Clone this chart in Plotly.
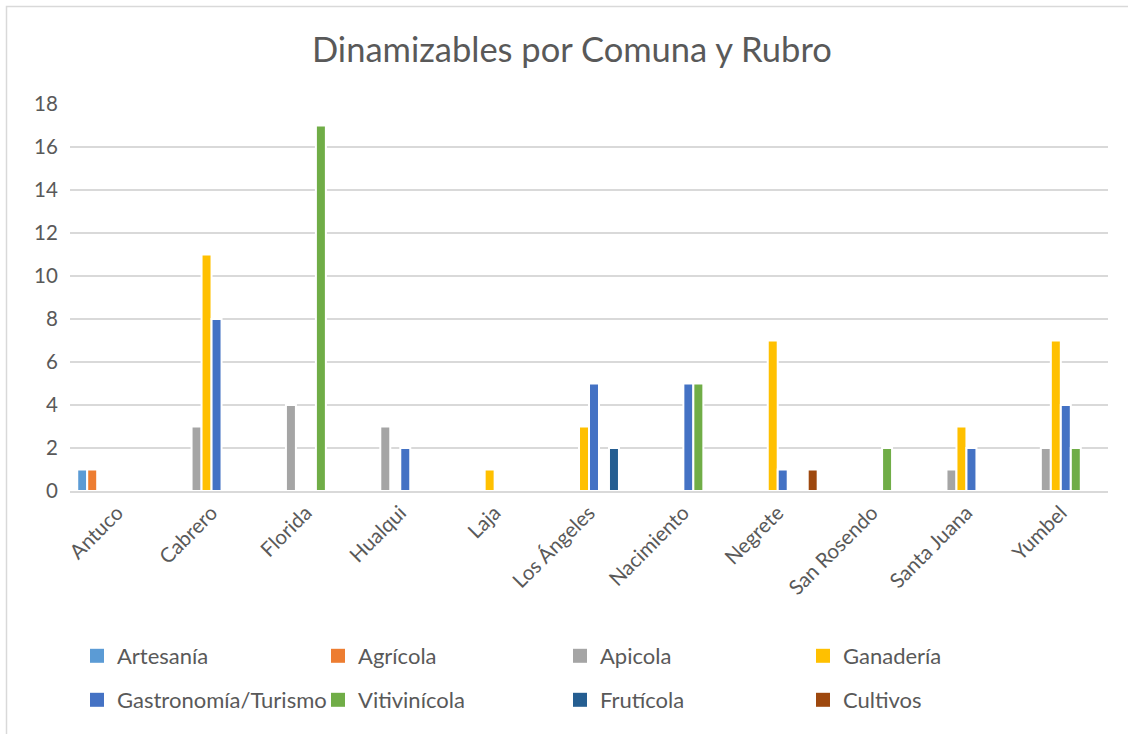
import plotly.graph_objects as go

comunas = ["Antuco", "Cabrero", "Florida", "Hualqui", "Laja", "Los Ángeles",
           "Nacimiento", "Negrete", "San Rosendo", "Santa Juana", "Yumbel"]

artesania    = [1, None, None, None, None, None, None, None, None, None, None]
agricola     = [1, None, None, None, None, None, None, None, None, None, None]
apicola      = [None, 3, 4, 3, None, None, None, None, None, 1, 2]
ganaderia    = [None, 11, None, None, 1, 3, None, 7, None, 3, 7]
gastronomia  = [None, 8, None, 2, None, 5, 5, 1, None, 2, 4]
vitivinicola = [None, None, 17, None, None, None, 5, None, 2, None, 2]
fruticola    = [None, None, None, None, None, 2, None, None, None, None, None]
cultivos     = [None, None, None, None, None, None, None, 1, None, None, None]

series_names = ["Artesanía", "Agrícola", "Apicola", "Ganadería",
                "Gastronomía/Turismo", "Vitivinícola", "Frutícola", "Cultivos"]
series_values = [artesania, agricola, apicola, ganaderia,
                 gastronomia, vitivinicola, fruticola, cultivos]
colors = ["#5B9BD5", "#ED7D31", "#A5A5A5", "#FFC000",
          "#4472C4", "#70AD47", "#255E91", "#9E480E"]

y_ticks = [0, 2, 4, 6, 8, 10, 12, 14, 16, 18]

FONT = "Lato"
TXT = "#595959"

# legend placement (container px): text-left x, row y
leg_cols = [117, 358, 600, 843]
leg_rows = [656, 700]
W, H = 1128, 734

fig = go.Figure()
for i, (name, vals, col) in enumerate(zip(series_names, series_values, colors)):
    fig.add_trace(go.Bar(
        x=comunas, y=vals, name=name,
        marker=dict(color=col, line=dict(color="white", width=2)),
        showlegend=False, legendgroup=name,
    ))
for i, (name, col) in enumerate(zip(series_names, colors)):
    lname = "legend" if i == 0 else f"legend{i+1}"
    fig.add_trace(go.Scatter(
        x=[None], y=[None], mode="markers", name=name,
        marker=dict(color=col, symbol="square", size=14),
        legend=lname, legendgroup=name, showlegend=True,
    ))

layout_legends = {}
for i in range(8):
    lname = "legend" if i == 0 else f"legend{i+1}"
    col = i % 4
    row = i // 4
    layout_legends[lname] = dict(
        x=(leg_cols[col] - 40) / W, xref="container", xanchor="left",
        y=1 - leg_rows[row] / H, yref="container", yanchor="middle",
        font=dict(family=FONT, size=22, color=TXT),
        bgcolor="rgba(0,0,0,0)", borderwidth=0,
        itemwidth=30, itemsizing="trace",
    )

fig.update_layout(
    width=W, height=H,
    margin=dict(l=70, r=20, t=104, b=243, autoexpand=False),
    paper_bgcolor="white", plot_bgcolor="white",
    barmode="group", bargap=0.153, bargroupgap=0,
    title=dict(text="Dinamizables por Comuna y Rubro",
               font=dict(family=FONT, size=34.5, color=TXT),
               x=0.507, xref="container", xanchor="center",
               y=1 - 50 / H, yref="container", yanchor="middle"),
    xaxis=dict(type="category", tickangle=-45,
               tickfont=dict(family=FONT, size=20.5, color=TXT),
               showgrid=False, showline=True, linecolor="#D9D9D9", linewidth=1.5,
               ticks="", zeroline=False),
    yaxis=dict(range=[0, 18], tickvals=y_ticks,
               tickfont=dict(family=FONT, size=20.5, color=TXT),
               showgrid=True, gridcolor="#D9D9D9", gridwidth=1.5,
               zeroline=False, showline=False,
               ticks="outside", ticklen=7, tickcolor="rgba(0,0,0,0)"),
    showlegend=True,
    **layout_legends,
)

# chart frame (left and top edges visible)
fig.add_shape(type="rect", xref="paper", yref="paper",
              x0=(6.5 - 70) / 1038, x1=(1140 - 70) / 1038,
              y0=(491 - 760) / 387, y1=(491 - 6.5) / 387,
              line=dict(color="#D9D9D9", width=1.5), fillcolor="rgba(0,0,0,0)",
              layer="below")

fig.write_html("out.html")
